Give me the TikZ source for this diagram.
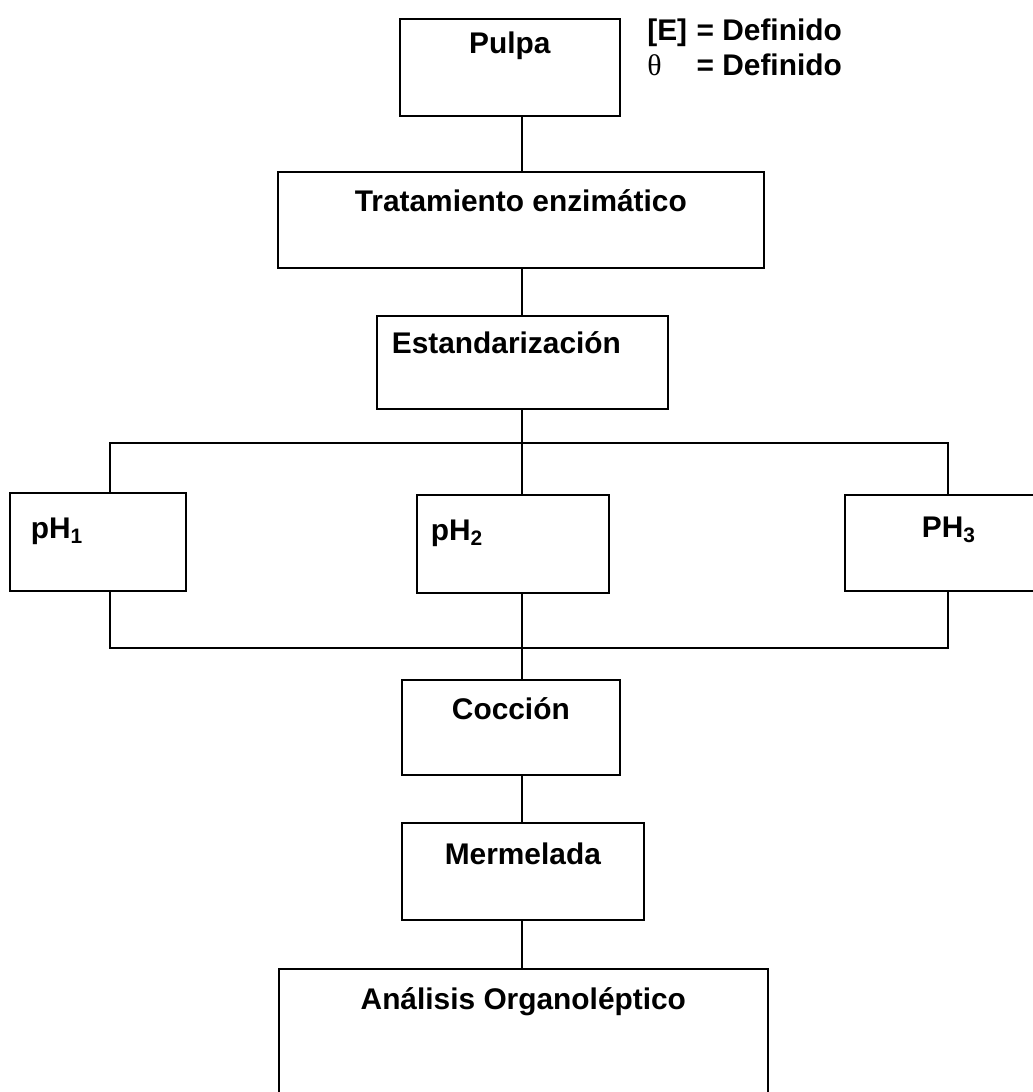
\documentclass[tikz,border=0pt]{standalone}
\usepackage{fontspec}
\setmainfont{Liberation Sans}
\newfontfamily\greekfont{Liberation Serif}
\usetikzlibrary{positioning}

\begin{document}
\begin{tikzpicture}[x=0.02cm, y=-0.02cm,
	main/.style={rectangle, draw=black, line width=1pt, inner sep=0pt, anchor=north west, text centered, font=\fontsize{17}{21}\selectfont\bfseries},
	phbox/.style={main, align=left},
	legend/.style={anchor=base west, inner sep=0pt, font=\fontsize{17}{21}\selectfont\bfseries},
	link/.style={line width=1pt}
	]
	\useasboundingbox (0,0) rectangle (1033,1092);

		\node (pulpa) [main, minimum width=4.4cm, text height=0.7cm, text depth=1.24cm] at (399,18) {Pulpa};
		\node (legendE) [legend] at (647,40) {\makebox[1.65em][l]{[E]}= Definido};
		\node (legendT) [legend] at (647,75) {\makebox[1.65em][l]{\mdseries\greekfont θ}= Definido};

		\node (tratamiento) [main, minimum width=9.72cm, text height=0.8cm, text depth=1.12cm] at (277,171) {Tratamiento enzimático};
		\node (estandar) [phbox, inner xsep=0.3cm, text width=5.22cm, text height=0.76cm, text depth=1.1cm] at (376,315) {Estandarización};

		\node (ph1) [phbox, inner xsep=0.42cm, text width=2.68cm, text height=0.92cm, text depth=1.04cm] at (9,492) {pH\textsubscript{1}};
		\node (ph2) [phbox, inner xsep=0.28cm, text width=3.28cm, text height=0.92cm, text depth=1.04cm] at (416,494) {pH\textsubscript{2}};
		\node (ph3) [main, minimum width=4.16cm, text height=0.86cm, text depth=1.06cm] at (844,494) {PH\textsubscript{3}};

		\node (coccion) [main, minimum width=4.36cm, text height=0.8cm, text depth=1.1cm] at (401,679) {Cocción};
		\node (mermelada) [main, minimum width=4.84cm, text height=0.84cm, text depth=1.1cm] at (401,822) {Mermelada};
		\node (analisis) [main, minimum width=9.78cm, text height=0.82cm, text depth=2.4cm] at (278,968) {Análisis Organoléptico};

		\coordinate (spine) at (522,0);
		\coordinate (left) at (110,443);
		\coordinate (right) at (948,443);
		\coordinate (lower) at (0,648);

	\draw [link] (pulpa.south -| spine) -- (tratamiento.north -| spine);
	\draw [link] (tratamiento.south -| spine) -- (estandar.north -| spine);
	\draw [link] (estandar.south -| spine) -- (ph2.north -| spine);
	\draw [link] (ph1.north -| left) |- (right) -- (ph3.north -| right);
	\draw [link] (ph1.south -| left) |- (lower -| right) -- (ph3.south -| right);
	\draw [link] (ph2.south -| spine) -- (coccion.north -| spine);
	\draw [link] (coccion.south -| spine) -- (mermelada.north -| spine);
	\draw [link] (mermelada.south -| spine) -- (analisis.north -| spine);

	\end{tikzpicture}
\end{document}
